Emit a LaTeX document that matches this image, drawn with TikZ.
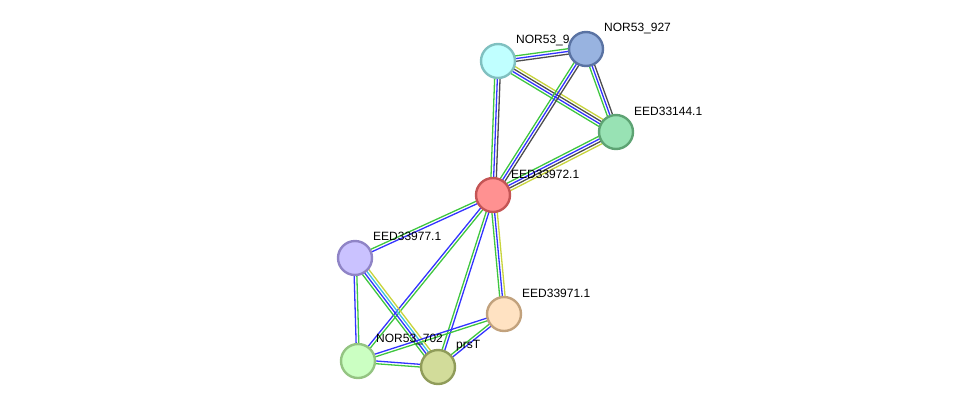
\documentclass[tikz,border=0pt]{standalone}
\usepackage{fontspec}
\setmainfont{Liberation Sans}
\usetikzlibrary{calc}
\pgfdeclarelayer{bg}
\pgfsetlayers{bg,main}
% edge colours
\definecolor{sgreen}{HTML}{3FC63F}
\definecolor{sblue}{HTML}{3333FF}
\definecolor{sblack}{HTML}{4D4D4D}
\definecolor{syellow}{HTML}{C8D43C}
\definecolor{scyan}{HTML}{3FBFE0}
% node colours
\definecolor{fnnine}{HTML}{C0FFFF}\definecolor{dnnine}{HTML}{80C0C0}
\definecolor{fnnsv}{HTML}{98B3E0}\definecolor{dnnsv}{HTML}{5A73A3}
\definecolor{feone}{HTML}{98E2B4}\definecolor{deone}{HTML}{5DA373}
\definecolor{fetwo}{HTML}{FF9191}\definecolor{detwo}{HTML}{C45555}
\definecolor{fesvn}{HTML}{CAC2FF}\definecolor{desvn}{HTML}{8F84C6}
\definecolor{feonea}{HTML}{FFE2C2}\definecolor{deonea}{HTML}{C2A27D}
\definecolor{fnsvt}{HTML}{CBFFC2}\definecolor{dnsvt}{HTML}{94C482}
\definecolor{fprs}{HTML}{D2DC9A}\definecolor{dprs}{HTML}{909C5A}
\tikzset{
  prot/.style={circle, minimum size=34pt, inner sep=0pt, line width=2.4pt},
  lbl/.style={anchor=west, inner sep=0pt, font=\fontsize{12}{14}\selectfont},
  edge/.style={line width=1.3pt}
}
% one coloured line per evidence channel, side by side
\newcommand{\stredge}[3]{%
  \foreach \c [count=\k] in {#3} {\global\let\nlines\k}
  \foreach \c [count=\i] in {#3} {
    \pgfmathsetmacro{\off}{((\nlines+1)/2-\i)*2.7}
    \draw[edge, color=\c] ($(#1)!\off pt!90:(#2)$) -- ($(#2)!\off pt!-90:(#1)$);
  }}
\begin{document}
\begin{tikzpicture}[x=1pt,y=-1pt]
\useasboundingbox (0,0) rectangle (975,413);
% labels
\node[lbl] (lnnine) at (516,40) {NOR53\_9};
\node[lbl] (lnnsv) at (604,28) {NOR53\_927};
\node[lbl] (leone) at (634,111) {EED33144.1};
\node[lbl] (letwo) at (511,174) {EED33972.1};
\node[lbl] (lesvn) at (373,236) {EED33977.1};
\node[lbl] (leonea) at (522,293) {EED33971.1};
\node[lbl] (lnsvt) at (376,339) {NOR53\_702};
\node[lbl] (lprs) at (456,346) {prsT};
% proteins
\node[prot, fill=fnnine, draw=dnnine] (nnine) at (498,61) {};
\node[prot, fill=fnnsv, draw=dnnsv] (nnsv) at (586,49) {};
\node[prot, fill=feone, draw=deone] (eone) at (616,132) {};
\node[prot, fill=fetwo, draw=detwo] (etwo) at (493,195) {};
\node[prot, fill=fesvn, draw=desvn] (esvn) at (355,258) {};
\node[prot, fill=feonea, draw=deonea] (eonea) at (504,314) {};
\node[prot, fill=fnsvt, draw=dnsvt] (nsvt) at (358,361) {};
\node[prot, fill=fprs, draw=dprs] (prs) at (438,367) {};
% interactions
\begin{pgfonlayer}{bg}
\stredge{nnine}{nnsv}{sgreen,sblue,sblack}
\stredge{nnine}{eone}{syellow,sblack,sblue,sgreen}
\stredge{eone}{nnsv}{sgreen,sblue,sblack}
\stredge{etwo}{nnsv}{sgreen,sblue,sblack}
\stredge{etwo}{nnine}{sgreen,sblue,sblack}
\stredge{etwo}{eone}{sgreen,sblue,sblack,syellow}
\stredge{esvn}{etwo}{sgreen,sblue}
\stredge{nsvt}{etwo}{sblue,sgreen}
\stredge{prs}{etwo}{sgreen,sblue}
\stredge{eonea}{etwo}{sgreen,sblue,syellow}
\stredge{nsvt}{esvn}{sblue,sgreen}
\stredge{esvn}{prs}{syellow,scyan,sblue,sgreen}
\stredge{nsvt}{eonea}{sblue,sgreen}
\stredge{nsvt}{prs}{sblue,sgreen}
\stredge{prs}{eonea}{sgreen,sblue}
\end{pgfonlayer}
\end{tikzpicture}
\end{document}
